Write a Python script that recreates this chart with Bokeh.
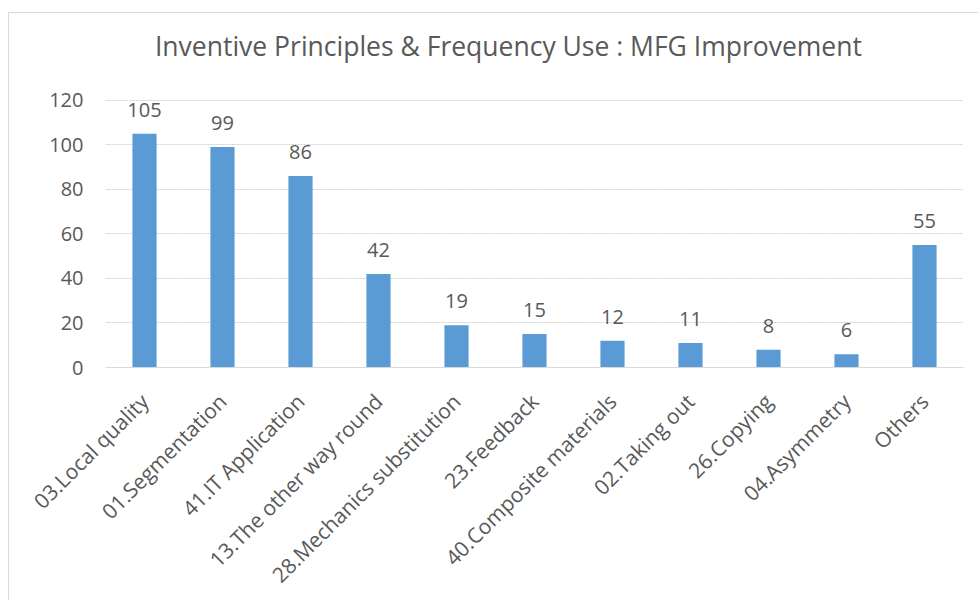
import math
from bokeh.plotting import figure
from bokeh.models import ColumnDataSource, LabelSet, Label, FactorRange, Range1d, FixedTicker
from bokeh.core.properties import value
from bokeh.embed import file_html
from bokeh.resources import INLINE

categories = ["03.Local quality", "01.Segmentation", "41.IT Application",
              "13.The other way round", "28.Mechanics substitution", "23.Feedback",
              "40.Composite materials", "02.Taking out", "26.Copying",
              "04.Asymmetry", "Others"]
counts = [105, 99, 86, 42, 19, 15, 12, 11, 8, 6, 55]
y_ticks = [0, 20, 40, 60, 80, 100, 120]
title_text = "Inventive Principles & Frequency Use : MFG  Improvement"

FONT = "Open Sans"
GREY_TXT = "#595959"

# pixel scale: 120 units over 268 px; frame from abs y=23 to 368
PX_PER_UNIT = 268 / 120
Y_TOP = (368 - 23) / PX_PER_UNIT

src = ColumnDataSource(dict(cat=categories, val=counts, lab=[str(v) for v in counts]))

p = figure(x_range=FactorRange(*categories, range_padding=0),
           y_range=Range1d(0, Y_TOP),
           width=970, height=588, output_backend="svg", toolbar_location=None,
           min_border_left=96, min_border_right=16, min_border_top=10, min_border_bottom=233,
           margin=(12, 0, 0, 8))
p.styles = {"border-top": "1px solid #d9d9d9", "border-left": "1px solid #d9d9d9"}

p.vbar(x="cat", top="val", width=0.31, source=src, fill_color="#5B9BD5", line_color=None)

labels = LabelSet(x="cat", y="val", text="lab", source=src, text_align="center",
                  text_baseline="alphabetic", y_offset=17, text_font=value(FONT),
                  text_font_size=value("20px"), text_color=GREY_TXT)
p.add_layout(labels)

p.add_layout(Label(x=5.21, y=(368 - 55) / PX_PER_UNIT, text=title_text,
                   text_align="center", text_baseline="middle",
                   text_font=FONT, text_font_size="26.5px", text_color=GREY_TXT,
                   y_offset=9))

p.outline_line_color = None
p.xgrid.grid_line_color = None
p.ygrid.grid_line_color = "#d0d0d0"
p.ygrid.grid_line_dash = "2 1"
p.yaxis.ticker = FixedTicker(ticks=y_ticks)
p.yaxis.axis_line_color = None
p.yaxis.major_tick_line_color = None
p.yaxis.minor_tick_line_color = None
p.yaxis.major_tick_out = 0
p.yaxis.major_tick_in = 0
p.yaxis.major_label_text_font = FONT
p.yaxis.major_label_text_font_size = "20px"
p.yaxis.major_label_text_color = GREY_TXT
p.yaxis.major_label_standoff = 22

p.xaxis.axis_line_color = "#d9d9d9"
p.xaxis.major_tick_line_color = None
p.xaxis.minor_tick_line_color = None
p.xaxis.major_tick_out = 0
p.xaxis.major_tick_in = 0
p.xaxis.major_label_orientation = math.pi / 4
p.xaxis.major_label_text_font = FONT
p.xaxis.major_label_text_font_size = "21px"
p.xaxis.major_label_text_color = GREY_TXT
p.xaxis.major_label_standoff = 30

p.background_fill_color = "white"
p.border_fill_color = "white"

open("out.html", "w").write(file_html(p, INLINE))
